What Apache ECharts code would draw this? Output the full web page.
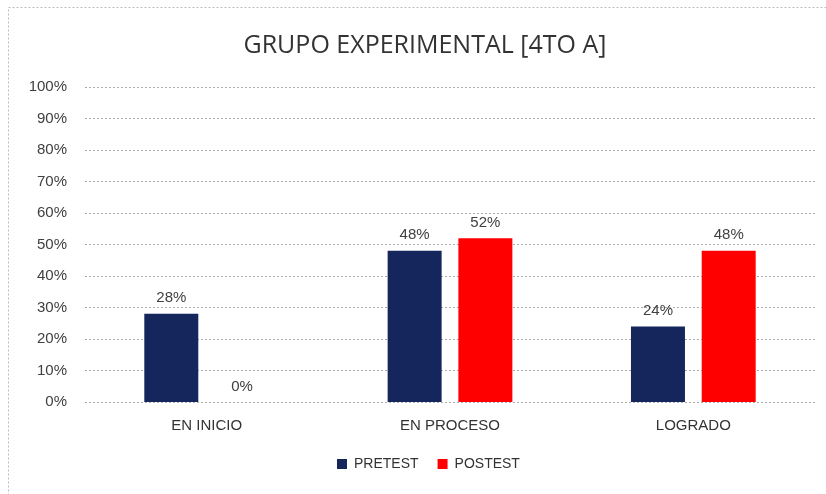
<!DOCTYPE html>
<html>
<head>
<meta charset="utf-8">
<script src="https://cdn.jsdelivr.net/npm/echarts@6/dist/echarts.min.js"></script>
<style>
  html, body { margin: 0; padding: 0; background: #fff; }
  #chart { width: 826px; height: 494px; }
</style>
</head>
<body>
<div id="chart"></div>
<script>
// categories and values (percent)
const categories = ["EN INICIO", "EN PROCESO", "LOGRADO"];
const pretest = [28, 48, 24];
const postest = [0, 52, 48];
const yTicks = [0, 10, 20, 30, 40, 50, 60, 70, 80, 90, 100];

const chart = echarts.init(document.getElementById("chart"));

const labelStyle = {
  show: true,
  position: "top",
  distance: 8,
  color: "#404040",
  fontSize: 15,
  fontFamily: "Liberation Sans",
  formatter: (p) => p.value + "%",
};

chart.setOption({
  animation: false,
  title: {
    text: "GRUPO EXPERIMENTAL [4TO A]",
    left: 420,
    top: 28,
    textAlign: "center",
    textStyle: {
      color: "#333",
      fontSize: 25,
      fontWeight: "normal",
      fontFamily: "Open Sans",
    },
  },
  graphic: [
    {
      type: "rect",
      shape: { x: 8.5, y: 7.5, width: 830, height: 500 },
      style: { fill: "none", stroke: "#bbb", lineWidth: 1, lineDash: [2, 2] },
      silent: true,
    },
  ],
  grid: { left: 85, right: 11, top: 87, bottom: 92 },
  legend: {
    data: ["PRETEST", "POSTEST"],
    bottom: 18,
    left: 332,
    itemWidth: 10,
    itemHeight: 10,
    itemGap: 19,
    icon: "rect",
    textStyle: {
      color: "#333",
      fontSize: 14,
      fontFamily: "Liberation Sans",
      padding: [0, 0, 0, 2],
    },
  },
  xAxis: {
    type: "category",
    data: categories,
    axisLine: { show: false },
    axisTick: { show: false },
    axisLabel: {
      color: "#333",
      fontSize: 15,
      fontFamily: "Liberation Sans",
      margin: 16,
    },
  },
  yAxis: {
    type: "value",
    min: 0,
    max: 100,
    interval: 10,
    axisLine: { show: false },
    axisTick: { show: false },
    axisLabel: {
      color: "#404040",
      fontSize: 15,
      fontFamily: "Liberation Sans",
      margin: 18,
      formatter: (v) => (yTicks.includes(v) ? v + "%" : ""),
    },
    splitLine: {
      lineStyle: { color: "#aaa", type: [2, 2], width: 1 },
    },
  },
  series: [
    {
      name: "PRETEST",
      type: "bar",
      data: pretest,
      barWidth: 54,
      barGap: "31%",
      itemStyle: { color: "#15265C" },
      label: labelStyle,
    },
    {
      name: "POSTEST",
      type: "bar",
      data: postest,
      barWidth: 54,
      itemStyle: { color: "#FF0000" },
      label: labelStyle,
    },
  ],
});
</script>
</body>
</html>
